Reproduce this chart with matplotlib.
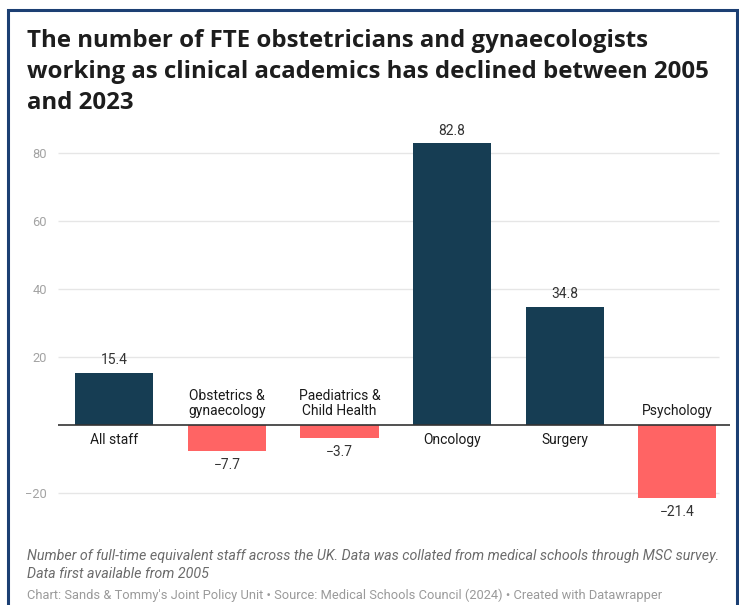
import matplotlib.pyplot as plt
from matplotlib.patches import Rectangle

# FTE change 2005-2023 by specialty
categories = ["All staff", "Obstetrics &\ngynaecology", "Paediatrics &\nChild Health",
              "Oncology", "Surgery", "Psychology"]
values = [15.4, -7.7, -3.7, 82.8, 34.8, -21.4]
y_ticks = [-20, 20, 40, 60, 80]

navy = "#163d53"
red = "#ff6464"

W, H = 739, 605
fig = plt.figure(figsize=(W / 100, H / 100), dpi=100)

# frame round the whole graphic
fig.patches.append(Rectangle((8 / W, -0.05), (737 - 8) / W, (H - 10) / H + 0.05,
                             transform=fig.transFigure, fill=False,
                             edgecolor="#1c3f73", linewidth=2.2))

ax = fig.add_axes([58 / W, (H - 510) / H, 675.6 / W, (510 - 124) / H])
ax.set_xlim(-0.5, 5.5)
ax.set_ylim(-25, 88.5)
for s in ax.spines.values():
    s.set_visible(False)
ax.set_xticks([])
ax.set_yticks(y_ticks)
ax.set_yticklabels(["\u221220" if t < 0 else str(t) for t in y_ticks],
                   fontsize=9.3, color="#a3a3a3", family="Roboto")
ax.tick_params(axis="y", length=0, pad=8)

ax.hlines(y_ticks, -0.5, 5.37, color="#e6e6e6", linewidth=1, zorder=0)
ax.hlines(0, -0.5, 5.47, color="#333333", linewidth=1.2, zorder=3)

x = range(len(values))
colors = [navy if v >= 0 else red for v in values]
ax.bar(x, values, width=0.695, color=colors, zorder=2)

for i, (cat, v) in enumerate(zip(categories, values)):
    lab = f"{v:.1f}".replace("-", "\u2212")
    if v >= 0:
        ax.annotate(lab, (i, v), xytext=(0, 4), textcoords="offset points",
                    ha="center", va="bottom", fontsize=10, color="#333333",
                    family="Roboto")
        ax.annotate(cat, (i, 0), xytext=(0, -5.5), textcoords="offset points",
                    ha="center", va="top", fontsize=10, color="#1a1a1a",
                    family="Roboto", linespacing=1.15)
    else:
        ax.annotate(lab, (i, v), xytext=(0, -5), textcoords="offset points",
                    ha="center", va="top", fontsize=10, color="#333333",
                    family="Roboto")
        ax.annotate(cat, (i, 0), xytext=(0, 5), textcoords="offset points",
                    ha="center", va="bottom", fontsize=10, color="#1a1a1a",
                    family="Roboto", linespacing=1.1)

fig.text(27 / W, 1 - 29 / H,
         "The number of FTE obstetricians and gynaecologists\n"
         "working as clinical academics has declined between 2005\n"
         "and 2023",
         ha="left", va="top", fontsize=17.3, fontweight="bold",
         color="#1d1d1d", family="Open Sans", linespacing=1.38)

fig.text(27 / W, 1 - 549 / H,
         "Number of full-time equivalent staff across the UK. Data was collated "
         "from medical schools through MSC survey.\nData first available from 2005",
         ha="left", va="top", fontsize=10.3, style="italic", color="#6b6b6b",
         family="Roboto", linespacing=1.4)
fig.text(27 / W, 1 - 589 / H,
         "Chart: Sands & Tommy's Joint Policy Unit \u2022 Source: Medical Schools "
         "Council (2024) \u2022 Created with Datawrapper",
         ha="left", va="top", fontsize=9.3, color="#9a9a9a", family="Roboto")

fig.savefig("out.png", dpi=100)
